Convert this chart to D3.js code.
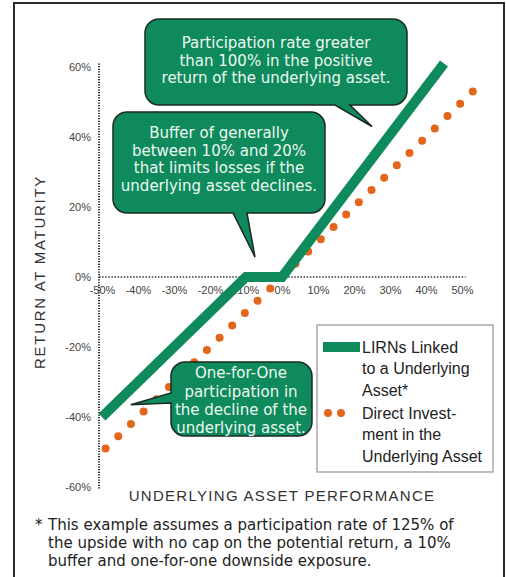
<!DOCTYPE html>
<html><head><meta charset="utf-8">
<script src="https://cdn.jsdelivr.net/npm/d3@7"></script>
<style>html,body{margin:0;padding:0;background:#fff}svg{display:block}</style>
</head><body>
<script>
// ---------- data ----------
const xTickValues = [-50,-40,-30,-20,-10,0,10,20,30,40,50];
const yTickValues = [-60,-40,-20,0,20,40,60];
const lirnX = [-50,-10,0,45];
const lirnY = [-40,0,0,61];
const directX = [-49,53];
const directY = [-49,53];
const directDots = 30;
const seriesNames = [["LIRNs Linked","to a Underlying","Asset*"],["Direct Invest-","ment in the","Underlying Asset"]];
const xTitle = "UNDERLYING ASSET PERFORMANCE";
const yTitle = "RETURN AT MATURITY";
const calloutTexts = [
  ["Participation rate greater","than 100% in the positive","return of the underlying asset."],
  ["Buffer of generally","between 10% and 20%","that limits losses if the","underlying asset declines."],
  ["One-for-One","participation in","the decline of the","underlying asset."]
];
const calloutTips = [[25,43],[-7.5,5.7],[-42,-36.5]];
const footnote = ["This example assumes a participation rate of 125% of","the upside with no cap on the potential return, a 10%","buffer and one-for-one downside exposure."];

// ---------- layout ----------
const W=506,H=577;
const GREEN="#0f8a5c", ORANGE="#e2661b";
const FONT="'Liberation Sans', Arial, sans-serif";
const WIDE="'DejaVu Sans', Verdana, sans-serif";
const svg=d3.select("body").append("svg").attr("width",W).attr("height",H);
const x=d3.scaleLinear().domain([-50,50]).range([102,462]);
const y=d3.scaleLinear().domain([-60,60]).range([487,67]);

svg.append("rect").attr("x",14).attr("y",3).attr("width",490).attr("height",600)
  .attr("fill","#fff").attr("stroke","#2a2a2a").attr("stroke-width",2);

// axes (dotted)
svg.append("line").attr("x1",99).attr("x2",99).attr("y1",y(61)).attr("y2",y(-60.5))
  .attr("stroke","#333").attr("stroke-width",2).attr("stroke-dasharray","1.2,1.4");
svg.append("line").attr("x1",99).attr("x2",x(51)).attr("y1",y(0)).attr("y2",y(0))
  .attr("stroke","#333").attr("stroke-width",1.5).attr("stroke-dasharray","1.5,1.6");

const xAxis=d3.axisBottom(x).tickValues(xTickValues).tickFormat(d=>d+"%").tickSize(0).tickPadding(0);
const gx=svg.append("g").attr("transform",`translate(0,${y(0)+15})`).call(xAxis);
gx.select(".domain").remove();
gx.selectAll("text").attr("font-family",FONT).attr("font-size",11).attr("fill","#444").attr("dy","0.71em").attr("y",-6);

const yAxis=d3.axisLeft(y).tickValues(yTickValues).tickFormat(d=>d+"%").tickSize(0).tickPadding(0);
const gy=svg.append("g").attr("transform",`translate(91,0)`).call(yAxis);
gy.select(".domain").remove();
gy.selectAll("text").attr("font-family",FONT).attr("font-size",11).attr("fill","#444");

// series
const line=d3.line().x(d=>x(d[0])).y(d=>y(d[1]));
const dPts=directX.map((v,i)=>[v,directY[i]]);
const dLen=Math.hypot(x(directX[1])-x(directX[0]), y(directY[1])-y(directY[0]));
svg.append("path").attr("d",line(dPts)).attr("fill","none").attr("stroke",ORANGE)
  .attr("stroke-width",8).attr("stroke-linecap","round")
  .attr("stroke-dasharray",`0,${dLen/(directDots-1)}`);
svg.append("path").attr("d",line(lirnX.map((v,i)=>[v,lirnY[i]]))).attr("fill","none")
  .attr("stroke",GREEN).attr("stroke-width",10).attr("stroke-linejoin","miter");

// callouts
const boxes=[
  {x0:145,y0:19,x1:407,y1:105,side:"bottom",a:335,b:350,cx:276,ty:43,lh:17.5},
  {x0:113,y0:112,x1:325,y1:213,side:"bottom",a:233,b:247,cx:219,ty:133,lh:17.5},
  {x0:171,y0:362,x1:312,y1:436,side:"left",a:393,b:403,cx:241,ty:373,lh:18.3}
];
function calloutPath(b,tip){
  const r=14,[tx,ty]=tip;
  let p=`M${b.x0+r},${b.y0}H${b.x1-r}A${r},${r} 0 0 1 ${b.x1},${b.y0+r}V${b.y1-r}A${r},${r} 0 0 1 ${b.x1-r},${b.y1}`;
  if(b.side==="bottom") p+=`H${b.b}L${tx},${ty}L${b.a},${b.y1}`;
  p+=`H${b.x0+r}A${r},${r} 0 0 1 ${b.x0},${b.y1-r}`;
  if(b.side==="left") p+=`V${b.b}L${tx},${ty}L${b.x0},${b.a}`;
  p+=`V${b.y0+r}A${r},${r} 0 0 1 ${b.x0+r},${b.y0}Z`;
  return p;
}
boxes.forEach((b,i)=>{
  const tip=[x(calloutTips[i][0]),y(calloutTips[i][1])];
  svg.append("path").attr("d",calloutPath(b,tip)).attr("fill",GREEN)
    .attr("stroke","#1b2a22").attr("stroke-width",1.5).attr("stroke-linejoin","miter");
  svg.append("g").selectAll("text").data(calloutTexts[i]).join("text")
    .attr("x",b.cx).attr("y",(d,j)=>b.ty+j*b.lh).attr("dy","0.35em")
    .attr("text-anchor","middle").attr("font-family",WIDE).attr("font-size",15)
    .attr("fill","#eef8f2").text(d=>d);
});

// legend
const lg=svg.append("g");
lg.append("rect").attr("x",317).attr("y",325).attr("width",176).attr("height",147)
  .attr("fill","#fff").attr("stroke","#aaa").attr("stroke-width",1.5);
lg.append("line").attr("x1",323).attr("x2",360).attr("y1",347).attr("y2",347)
  .attr("stroke",GREEN).attr("stroke-width",10);
lg.append("line").attr("x1",328).attr("x2",354).attr("y1",413).attr("y2",413)
  .attr("stroke",ORANGE).attr("stroke-width",8).attr("stroke-linecap","round").attr("stroke-dasharray","0,13");
seriesNames.forEach((lines,i)=>{
  lg.append("g").selectAll("text").data(lines).join("text")
    .attr("x",362).attr("y",(d,j)=>(i?413:347)+j*21.8).attr("dy","0.35em")
    .attr("font-family",FONT).attr("font-size",16).attr("fill","#222").text(d=>d);
});

// titles
svg.append("text").attr("x",282).attr("y",496).attr("dy","0.35em").attr("text-anchor","middle")
  .attr("font-family",FONT).attr("font-size",15).attr("letter-spacing",1.3).attr("fill","#333").text(xTitle);
svg.append("text").attr("transform","translate(40,272) rotate(-90)").attr("dy","0.35em").attr("text-anchor","middle")
  .attr("font-family",FONT).attr("font-size",15).attr("letter-spacing",1.7).attr("fill","#333").text(yTitle);

// footnote
svg.append("text").attr("x",35).attr("y",525).attr("dy","0.35em").attr("font-family",WIDE).attr("font-size",15).attr("fill","#222").text("*");
svg.append("g").selectAll("text").data(footnote).join("text")
  .attr("x",48).attr("y",(d,j)=>525+j*18).attr("dy","0.35em")
  .attr("font-family",WIDE).attr("font-size",15).attr("fill","#222").text(d=>d);
</script>
</body></html>
